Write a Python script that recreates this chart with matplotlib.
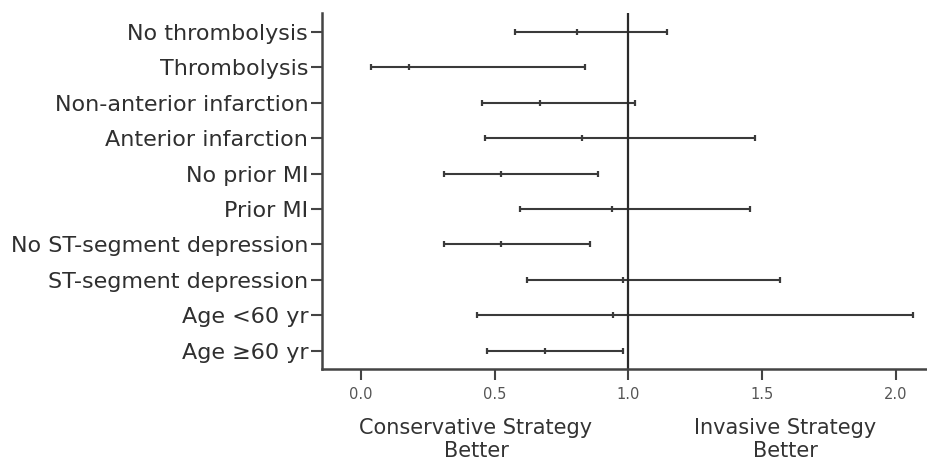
import numpy as np
import matplotlib
matplotlib.use("Agg")
import matplotlib.pyplot as plt

# subgroups, top to bottom
subgroups = [
    "No thrombolysis",
    "Thrombolysis",
    "Non-anterior infarction",
    "Anterior infarction",
    "No prior MI",
    "Prior MI",
    "No ST-segment depression",
    "ST-segment depression",
    "Age <60 yr",
    "Age \u226560 yr",
]
lower = [0.575, 0.037, 0.453, 0.465, 0.311, 0.593, 0.311, 0.622, 0.432, 0.471]
point = [0.807, 0.180, 0.670, 0.827, 0.522, 0.938, 0.522, 0.979, 0.942, 0.687]
upper = [1.144, 0.836, 1.026, 1.473, 0.887, 1.454, 0.857, 1.567, 2.063, 0.981]

xticks = [0.0, 0.5, 1.0, 1.5, 2.0]

plt.rcParams["font.family"] = "DejaVu Sans"

fig = plt.figure(figsize=(9.28, 4.62), dpi=100)
ax = fig.add_axes([0.347, 0.2007, 0.653, 0.7713])

n = len(subgroups)
y = np.arange(n)[::-1]
line_col = "#3a3a3a"

for yi, lo, pt, hi in zip(y, lower, point, upper):
    ax.plot([lo, hi], [yi, yi], color=line_col, lw=1.5, solid_capstyle="butt")
    ax.plot([lo, pt, hi], [yi, yi, yi], ls="none", marker="|", ms=5, mew=1.6, color=line_col)

ax.axvline(1.0, color="#2a2a2a", lw=1.6)

ax.set_xlim(-0.146, 2.12)
ax.set_ylim(-0.52, n - 1 + 0.53)

ax.set_yticks(y)
ax.set_yticklabels(subgroups, fontsize=16, color="#2f2f2f")
ax.set_xticks(xticks)
ax.set_xticklabels([f"{t:.1f}" for t in xticks], fontsize=10.5, color="#555555")

ax.tick_params(axis="y", length=8, width=1.5, color="#444444", pad=2)
ax.tick_params(axis="x", length=8, width=1.5, color="#444444", pad=5)

for side in ["top", "right"]:
    ax.spines[side].set_visible(False)
for side in ["left", "bottom"]:
    ax.spines[side].set_linewidth(1.8)
    ax.spines[side].set_color("#444444")

ax.text(0.43, -2.5, "Conservative Strategy\nBetter", ha="center", va="center",
        fontsize=15, color="#333333", linespacing=1.15)
ax.text(1.586, -2.5, "Invasive Strategy\nBetter", ha="center", va="center",
        fontsize=15, color="#333333", linespacing=1.15)

fig.savefig("out.png", dpi=100)
plt.close(fig)
